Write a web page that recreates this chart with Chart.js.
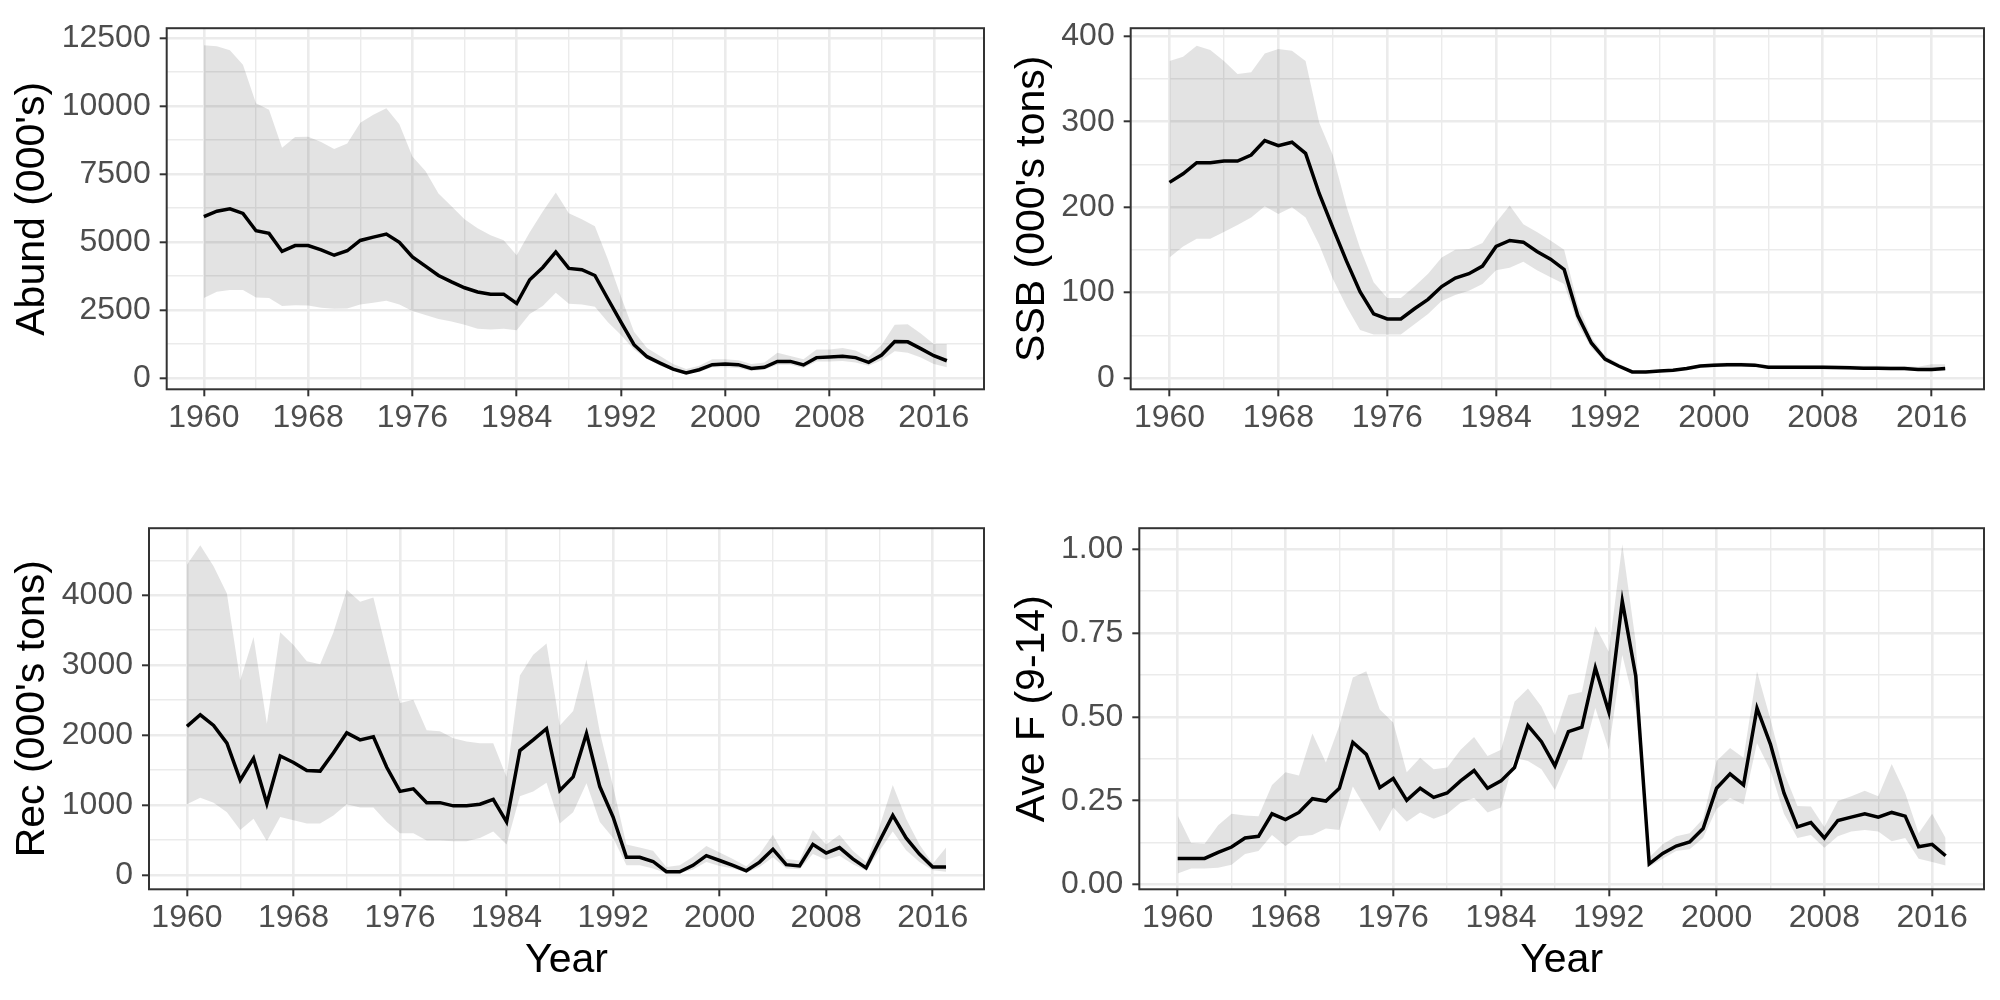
<!DOCTYPE html>
<html>
<head>
<meta charset="utf-8">
<script src="https://cdn.jsdelivr.net/npm/chart.js@4.4.0/dist/chart.umd.min.js"></script>
<style>
  html, body { margin: 0; padding: 0; background: #fff; }
  #wrap { position: relative; width: 2000px; height: 1000px; }
  #wrap canvas { position: absolute; }
</style>
</head>
<body>
<div id="wrap">
  <canvas id="abund" width="1000" height="500" style="left:0;top:0"></canvas>
  <canvas id="ssb" width="1000" height="500" style="left:1000px;top:0"></canvas>
  <canvas id="rec" width="1000" height="500" style="left:0;top:500px"></canvas>
  <canvas id="avef" width="1000" height="500" style="left:1000px;top:500px"></canvas>
</div>
<script>
/* global Chart */
const years = [1960, 1961, 1962, 1963, 1964, 1965, 1966, 1967, 1968, 1969,
  1970, 1971, 1972, 1973, 1974, 1975, 1976, 1977, 1978, 1979,
  1980, 1981, 1982, 1983, 1984, 1985, 1986, 1987, 1988, 1989,
  1990, 1991, 1992, 1993, 1994, 1995, 1996, 1997, 1998, 1999,
  2000, 2001, 2002, 2003, 2004, 2005, 2006, 2007, 2008, 2009,
  2010, 2011, 2012, 2013, 2014, 2015, 2016, 2017];

// grid positions (major + minor); labels only on the majors
const yearTicks = [1960, 1964, 1968, 1972, 1976, 1980, 1984, 1988, 1992, 1996,
  2000, 2004, 2008, 2012, 2016];
const abundTicks = [0, 1250, 2500, 3750, 5000, 6250, 7500, 8750, 10000, 11250, 12500];
const ssbTicks = [0, 50, 100, 150, 200, 250, 300, 350, 400];
const recTicks = [0, 500, 1000, 1500, 2000, 2500, 3000, 3500, 4000, 4500];
const fTicks = [0, 0.125, 0.25, 0.375, 0.5, 0.625, 0.75, 0.875, 1];

// Abundance (000's)
const abundMean = [5930, 6130, 6215, 6050, 5410, 5315, 4650, 4865, 4865, 4710,
  4510, 4675, 5055, 5175, 5290, 4985, 4450, 4110, 3765, 3530,
  3315, 3160, 3080, 3080, 2735, 3610, 4060, 4630, 4025, 3980,
  3765, 2900, 2050, 1220, 780, 545, 320, 180, 300, 485,
  510, 485, 345, 390, 605, 605, 475, 745, 770, 795,
  745, 570, 840, 1340, 1325, 1075, 815, 630];
const abundHi = [12230, 12200, 12050, 11520, 10100, 9860, 8465, 8855, 8865, 8675,
  8415, 8620, 9385, 9680, 9920, 9330, 8145, 7610, 6780, 6310,
  5835, 5505, 5245, 5065, 4510, 5360, 6120, 6820, 6050, 5835,
  5575, 4355, 2995, 1695, 1100, 805, 510, 330, 450, 685,
  685, 650, 510, 570, 925, 805, 685, 1040, 1040, 1100,
  1005, 770, 1220, 1955, 1975, 1635, 1245, 1245];
const abundLo = [2935, 3170, 3230, 3230, 2960, 2935, 2640, 2675, 2665, 2580,
  2545, 2555, 2700, 2760, 2840, 2700, 2460, 2310, 2165, 2070,
  1955, 1810, 1775, 1810, 1750, 2345, 2640, 3135, 2725, 2700,
  2615, 2050, 1575, 1040, 685, 450, 270, 130, 215, 390,
  390, 365, 250, 295, 485, 485, 365, 605, 605, 625,
  570, 450, 650, 980, 925, 745, 510, 390];

// SSB (000's tons)
const ssbMean = [229, 239, 252, 252, 254, 254, 261, 278, 272, 276,
  263, 216, 176, 137, 101, 75, 69, 69, 81, 92,
  107, 117, 122, 131, 154, 161, 159, 148, 139, 127,
  73, 41, 22, 14, 7, 7, 8, 9, 11, 14,
  15, 15.5, 15.5, 15, 12.5, 12.5, 12.5, 12.5, 12.5, 12.3,
  12, 11.3, 11.3, 11, 11, 10, 10, 11];
const ssbHi = [371, 376, 389, 384, 371, 356, 358, 380, 385, 383,
  371, 299, 261, 201, 152, 112, 93.5, 93.5, 107, 122,
  141, 150, 151, 158, 182, 202, 180, 171, 161, 150,
  86, 48, 26, 17, 8.7, 9, 9.5, 10.5, 12.5, 16,
  17.5, 18, 18, 17.5, 15, 15, 15, 15, 15, 14.8,
  14.5, 14.3, 14.2, 14, 14, 13, 16, 16];
const ssbLo = [141, 154, 163, 163, 171, 179, 188, 201, 192, 200,
  188, 156, 116, 84, 56, 51, 51, 51, 63, 75,
  90, 97, 102, 110, 126, 129, 136, 126, 118, 110,
  63, 35, 19, 12.4, 5.7, 5.7, 6.5, 7.5, 9, 11.5,
  12.5, 13, 13, 12.5, 10.5, 10.3, 10.2, 10, 10, 9.8,
  9.6, 9.4, 9.2, 9, 9, 8, 7.5, 8];

// Recruitment
const recMean = [2124, 2290, 2138, 1885, 1356, 1669, 1021, 1701, 1609, 1494,
  1485, 1747, 2032, 1931, 1977, 1540, 1195, 1232, 1034, 1034,
  988, 988, 1011, 1080, 759, 1779, 1931, 2092, 1209, 1402,
  2023, 1264, 828, 253, 253, 193, 46, 46, 138, 276,
  207, 138, 60, 184, 368, 147, 129, 437, 313, 391,
  230, 101, 483, 851, 529, 299, 115, 115];
const recHi = [4437, 4713, 4414, 4023, 2782, 3402, 2161, 3471, 3287, 3057,
  3011, 3471, 4078, 3908, 3968, 3195, 2460, 2506, 2069, 2055,
  1954, 1908, 1885, 1885, 1402, 2851, 3149, 3310, 2138, 2345,
  3080, 2046, 1264, 437, 391, 345, 115, 138, 262, 414,
  322, 230, 124, 299, 575, 230, 207, 644, 437, 575,
  345, 184, 690, 1287, 805, 437, 161, 391];
const recLo = [1011, 1103, 1034, 897, 644, 805, 483, 828, 782, 736,
  736, 851, 1011, 966, 966, 759, 598, 598, 492, 492,
  483, 483, 529, 621, 437, 1126, 1195, 1320, 736, 897,
  1310, 759, 529, 138, 138, 92, 23, 23, 78, 184,
  129, 92, 32, 115, 253, 92, 83, 299, 216, 276,
  152, 60, 345, 621, 354, 184, 69, 46];

// Average F (ages 9-14)
const fMean = [0.078, 0.078, 0.078, 0.096, 0.112, 0.139, 0.144, 0.211, 0.194, 0.215,
  0.256, 0.249, 0.287, 0.424, 0.388, 0.289, 0.316, 0.251, 0.287, 0.260,
  0.273, 0.309, 0.340, 0.287, 0.309, 0.349, 0.474, 0.426, 0.354, 0.456,
  0.469, 0.646, 0.515, 0.845, 0.622, 0.062, 0.093, 0.115, 0.127, 0.167,
  0.287, 0.330, 0.297, 0.526, 0.418, 0.273, 0.172, 0.185, 0.139, 0.191,
  0.201, 0.211, 0.201, 0.215, 0.204, 0.113, 0.120, 0.086];
const fHi = [0.206, 0.124, 0.122, 0.177, 0.211, 0.206, 0.204, 0.297, 0.335, 0.325,
  0.450, 0.364, 0.474, 0.617, 0.636, 0.522, 0.483, 0.335, 0.378, 0.344,
  0.349, 0.402, 0.440, 0.383, 0.402, 0.545, 0.584, 0.531, 0.445, 0.565,
  0.574, 0.770, 0.694, 1.014, 0.722, 0.081, 0.120, 0.144, 0.153, 0.196,
  0.368, 0.407, 0.378, 0.636, 0.493, 0.335, 0.234, 0.233, 0.172, 0.249,
  0.263, 0.280, 0.263, 0.359, 0.273, 0.153, 0.211, 0.139];
const fLo = [0.033, 0.048, 0.048, 0.050, 0.059, 0.091, 0.100, 0.148, 0.115, 0.144,
  0.148, 0.167, 0.163, 0.292, 0.225, 0.158, 0.230, 0.187, 0.215, 0.196,
  0.211, 0.244, 0.258, 0.215, 0.230, 0.378, 0.368, 0.344, 0.282, 0.373,
  0.373, 0.526, 0.402, 0.684, 0.522, 0.053, 0.077, 0.100, 0.105, 0.139,
  0.225, 0.258, 0.239, 0.421, 0.340, 0.211, 0.139, 0.148, 0.110, 0.144,
  0.158, 0.163, 0.158, 0.129, 0.139, 0.077, 0.067, 0.057];

Chart.defaults.font.family = '"Liberation Sans", Arial, sans-serif';

const ribbonFill = 'rgba(0,0,0,0.11)';
const gridColor = '#EBEBEB';
const inkColor = '#333333';

// ggplot-style border round the panel
const panelBorder = {
  id: 'panelBorder',
  afterDraw(chart) {
    const { ctx, chartArea: a } = chart;
    ctx.save();
    ctx.strokeStyle = inkColor;
    ctx.lineWidth = 2;
    ctx.strokeRect(a.left, a.top, a.right - a.left, a.bottom - a.top);
    ctx.restore();
  }
};

function makePanel(id, o) {
  const toPts = (arr) => arr.map((v, i) => ({ x: years[i], y: v }));
  const majorX = (v) => Math.round(v) % 8 === 0;
  const majorY = (v) => Math.abs(v / o.labelStep - Math.round(v / o.labelStep)) < 1e-6;

  return new Chart(document.getElementById(id), {
    type: 'line',
    data: {
      datasets: [
        { data: toPts(o.lo), borderColor: 'rgba(0,0,0,0)', borderWidth: 0, pointRadius: 0, fill: false },
        { data: toPts(o.hi), borderColor: 'rgba(0,0,0,0)', borderWidth: 0, pointRadius: 0, fill: '-1', backgroundColor: ribbonFill },
        { data: toPts(o.mean), borderColor: '#000', borderWidth: 3.5, pointRadius: 0, fill: false, tension: 0 }
      ]
    },
    options: {
      responsive: false,
      animation: false,
      devicePixelRatio: 1,
      layout: { padding: { left: 0, right: 16, top: 15.3, bottom: 0 } },
      plugins: { legend: { display: false }, tooltip: { enabled: false } },
      scales: {
        x: {
          type: 'linear',
          bounds: 'data',
          min: 1957.15,
          max: 2019.85,
          afterBuildTicks: (s) => { s.ticks = yearTicks.map((v) => ({ value: v })); },
          afterFit: (s) => { s.height = 110.7; },
          border: { display: false },
          grid: {
            color: gridColor,
            lineWidth: (c) => (c.tick && majorX(c.tick.value) ? 2.6 : 1.4),
            tickColor: (c) => (c.tick && majorX(c.tick.value) ? inkColor : 'rgba(0,0,0,0)'),
            tickWidth: 2,
            tickLength: 7
          },
          ticks: {
            autoSkip: false,
            maxRotation: 0,
            padding: 3,
            color: '#4D4D4D',
            font: { size: 32 },
            callback: (v) => (majorX(v) ? String(v) : '')
          },
          title: {
            display: o.showYear,
            text: 'Year',
            color: '#000',
            font: { size: 41 },
            padding: { top: 0, bottom: 14.6 }
          }
        },
        y: {
          bounds: 'data',
          min: o.min,
          max: o.max,
          afterBuildTicks: (s) => { s.ticks = o.ticks.map((v) => ({ value: v })); },
          afterFit: (s) => { s.width = o.left; },
          border: { display: false },
          grid: {
            color: gridColor,
            lineWidth: (c) => (c.tick && majorY(c.tick.value) ? 2.6 : 1.4),
            tickColor: (c) => (c.tick && majorY(c.tick.value) ? inkColor : 'rgba(0,0,0,0)'),
            tickWidth: 2,
            tickLength: 7
          },
          ticks: {
            autoSkip: false,
            padding: 9,
            color: '#4D4D4D',
            font: { size: 32 },
            callback: (v) => (majorY(v) ? o.fmt(v) : '')
          },
          title: {
            display: true,
            text: o.title,
            color: '#000',
            font: { size: 41 },
            padding: { top: 7.7, bottom: 0 }
          }
        }
      }
    },
    plugins: [panelBorder]
  });
}

makePanel('abund', {
  mean: abundMean, lo: abundLo, hi: abundHi, ticks: abundTicks,
  min: -420, max: 12860, labelStep: 2500, left: 166.7,
  title: "Abund (000's)", showYear: false, fmt: (v) => String(v)
});

makePanel('ssb', {
  mean: ssbMean, lo: ssbLo, hi: ssbHi, ticks: ssbTicks,
  min: -13.3, max: 409.5, labelStep: 100, left: 130.7,
  title: "SSB (000's tons)", showYear: false, fmt: (v) => String(v)
});

makePanel('rec', {
  mean: recMean, lo: recLo, hi: recHi, ticks: recTicks,
  min: -205, max: 4958, labelStep: 1000, left: 149,
  title: "Rec (000's tons)", showYear: true, fmt: (v) => String(v)
});

makePanel('avef', {
  mean: fMean, lo: fLo, hi: fHi, ticks: fTicks,
  min: -0.014, max: 1.062, labelStep: 0.25, left: 139.3,
  title: 'Ave F (9-14)', showYear: true, fmt: (v) => v.toFixed(2)
});
</script>
</body>
</html>
